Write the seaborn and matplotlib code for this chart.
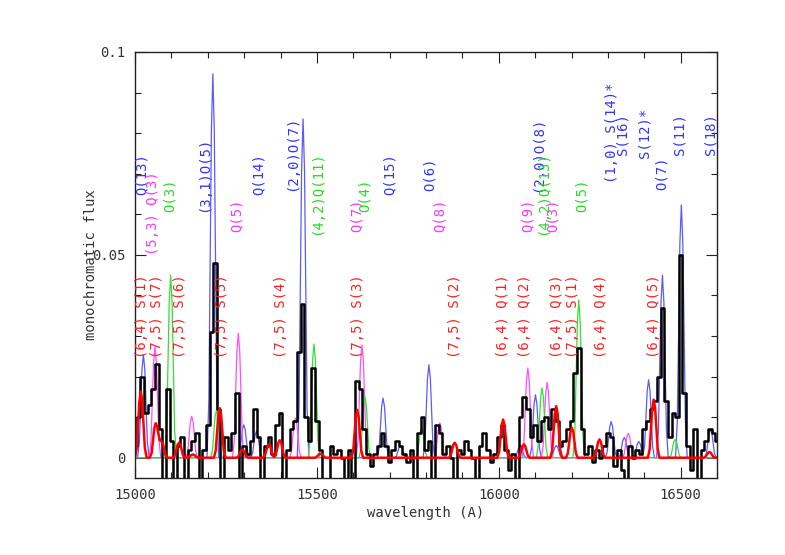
import numpy as np
import matplotlib
matplotlib.use('Agg')
import matplotlib.pyplot as plt
import seaborn as sns
from matplotlib.ticker import MultipleLocator, FuncFormatter

# Observed spectrum: 10 A bins from 15000 A, flux in units of 1e-3
obs_start = 15000
obs_step = 10
obs_flux = [
    3, 10, 20, 11, 13, 17, 23, 7, -9, 17,
    4, -9, 3, 5, -9, 2, 4, 6, -9, 2,
    8, 31, 48, 12, -9, 5, 2, 6, 16, -8,
    3, 1, 4, 12, 5, -9, 3, 5, 1, 8,
    11, -8, 2, 7, 9, 26, 38, 10, 4, 22,
    9, 2, -9, -8, 3, 1, 2, 0, -9, 2,
    -8, 19, 17, 7, 1, -2, 1, 3, 6, 3,
    -1, 2, 4, 3, 1, -1, 2, -9, 6, 10,
    2, 4, -9, 8, 6, 1, 3, 0, -8, 2,
    1, 4, 2, 0, -8, 3, 6, 2, -1, 1,
    5, 8, 2, -3, 1, -9, 10, 15, 12, 5,
    8, 4, 9, 10, 7, 12, 9, 3, 4, 7,
    9, 21, 27, 7, 1, 3, -1, 2, 0, 3,
    6, 5, -2, 2, -3, -9, 3, 0, 2, 1,
    7, 9, 12, 14, 20, 37, 14, 5, 11, 10,
    50, 16, 3, -3, 7, -9, 2, 4, 7, 6,
    4,
]

# Model line lists: centre (A) and peak flux
blue_centre = [15023, 15214, 15299, 15334, 15462, 15682, 15730, 15808, 16059,
               16101, 16158, 16309, 16345, 16385, 16412, 16450, 16502, 16582]
blue_peak = [0.0254, 0.0946, 0.0081, 0.0065, 0.0835, 0.0147, 0.003, 0.0229, 0.003,
             0.0155, 0.003, 0.0089, 0.005, 0.004, 0.0192, 0.045, 0.0623, 0.007]

magenta_centre = [15055, 15156, 15284, 15441, 15624, 15838, 16080, 16133, 16356]
magenta_peak = [0.0274, 0.0102, 0.0307, 0.0098, 0.0278, 0.0086, 0.0221, 0.0186, 0.006]

green_centre = [15098, 15224, 15492, 15632, 15788, 16119, 16220, 16485]
green_peak = [0.045, 0.0118, 0.028, 0.0151, 0.0074, 0.0172, 0.0389, 0.0045]

red_centre = [15016, 15057, 15073, 15121, 15159, 15233, 15295, 15368, 15398, 15510,
              15611, 15879, 16012, 16069, 16158, 16201, 16277, 16426, 16579]
red_peak = [0.0163, 0.0085, 0.004, 0.0037, 0.0008, 0.0122, 0.002, 0.0033, 0.0043, 0.001,
            0.0118, 0.0037, 0.0094, 0.0033, 0.0127, 0.0074, 0.0045, 0.0143, 0.0014]

# Line profile template: offset from centre (A) and fraction of peak
profile_offset = [-16, -11, -7.5, -4, 0, 4, 7.5, 11, 16]
profile_frac = [0, 0.15, 0.5, 0.85, 1, 0.85, 0.5, 0.15, 0]

# Line identifications: text, wavelength, bottom of text (flux units)
blue_text = ['Q(13)', '(3,1)O(5)', 'Q(14)', '(2,0)O(7)', 'Q(15)', 'O(6)', '(2,0)O(8)',
             '(1,0) S(14)*', 'S(16)', 'S(12)*', 'O(7)', 'S(11)', 'S(18)']
blue_text_wl = [15019, 15190, 15341, 15431, 15700, 15810, 16107,
                16310, 16340, 16401, 16448, 16497, 16582]
blue_text_y = [0.0648, 0.0606, 0.0648, 0.0658, 0.0648, 0.0658, 0.0655,
               0.0677, 0.0746, 0.0739, 0.066, 0.0746, 0.0746]

magenta_text = ['(5,3) Q(3)', 'Q(5)', 'Q(7)', 'Q(8)', 'Q(9)', 'O(3)']
magenta_text_wl = [15049, 15280, 15610, 15838, 16080, 16148]
magenta_text_y = [0.050, 0.0557, 0.0557, 0.0557, 0.0557, 0.0557]

green_text = ['O(3)', '(4,2)Q(11)', 'O(4)', '(4,2)Q(13)', 'O(5)']
green_text_wl = [15096, 15500, 15632, 16121, 16228]
green_text_y = [0.0606, 0.0549, 0.0606, 0.0549, 0.0606]

red_text = ['(6,4) S(1)', '(7,5) S(7)', '(7,5) S(6)', '(7,5) S(5)', '(7,5) S(4)',
            '(7,5) S(3)', '(7,5) S(2)', '(6,4) Q(1)', '(6,4) Q(2)', '(6,4) Q(3)',
            '(7,5) S(1)', '(6,4) Q(4)', '(6,4) Q(5)']
red_text_wl = [15019, 15060, 15124, 15239, 15401, 15613, 15879, 16011, 16071,
               16159, 16203, 16280, 16428]
red_text_y = [0.0246] * len(red_text)


def model_spectrum(grid, centres, peaks):
    '''Sum the line profiles for one model'''
    flux = np.zeros_like(grid)
    for c, h in zip(centres, peaks):
        flux += np.interp(grid, c + np.array(profile_offset), h * np.array(profile_frac),
                          left=0, right=0)
    return flux


sns.set_theme(style='ticks')
plt.rcParams['font.family'] = ['DejaVu Sans Mono']

fig = plt.figure(figsize=(7.85, 5.55), dpi=100)
ax = fig.add_axes([135 / 785, 1 - 478 / 555, 582 / 785, 426 / 555])

grid = np.arange(14980, 16621, 1.0)
models = [
    (blue_centre, blue_peak, '#5a5aff', 0.9),
    (magenta_centre, magenta_peak, '#ff4dff', 0.9),
    (green_centre, green_peak, '#33e033', 0.9),
]
for centres, peaks, col, lw in models:
    sns.lineplot(x=grid, y=model_spectrum(grid, centres, peaks), color=col, lw=lw,
                 estimator=None, sort=False, ax=ax)

# Observed spectrum
obs_wl = obs_start + obs_step * np.arange(len(obs_flux))
sns.lineplot(x=obs_wl, y=np.array(obs_flux) * 1e-3, color='black', lw=1.8,
             drawstyle='steps-mid', estimator=None, sort=False, ax=ax)

# Red model on top
sns.lineplot(x=grid, y=model_spectrum(grid, red_centre, red_peak), color='#ff0000', lw=1.8,
             estimator=None, sort=False, ax=ax)

# Labels
for texts, wls, ys, col in [(blue_text, blue_text_wl, blue_text_y, '#3333ff'),
                            (magenta_text, magenta_text_wl, magenta_text_y, '#ff33ff'),
                            (green_text, green_text_wl, green_text_y, '#22dd22'),
                            (red_text, red_text_wl, red_text_y, '#ff2020')]:
    for s, w, y in zip(texts, wls, ys):
        ax.text(w, y, s, rotation=90, ha='center', va='bottom', color=col, fontsize=10)

ax.set_xlim(15000, 16600)
ax.set_ylim(-0.005, 0.1)
ax.xaxis.set_major_locator(MultipleLocator(500))
ax.xaxis.set_minor_locator(MultipleLocator(100))
ax.yaxis.set_major_locator(MultipleLocator(0.05))
ax.yaxis.set_minor_locator(MultipleLocator(0.01))
fmt = FuncFormatter(lambda v, p: '%g' % round(v, 4))
ax.xaxis.set_major_formatter(fmt)
ax.yaxis.set_major_formatter(fmt)
ax.tick_params(which='both', direction='in', top=True, right=True, color='#222222',
               labelcolor='#333333', labelsize=10, width=0.8)
ax.tick_params(which='major', length=8, pad=7)
ax.tick_params(which='minor', length=4)
for sp in ax.spines.values():
    sp.set_color('#222222')
    sp.set_linewidth(1.0)

ax.set_xlabel('wavelength (A)', fontsize=10, color='#333333')
ax.set_ylabel('monochromatic flux', fontsize=10, color='#333333')
ax.xaxis.set_label_coords(0.5, -0.066)
ax.yaxis.set_label_coords(-0.064, 0.5)

plt.savefig('out.png', dpi=100)
